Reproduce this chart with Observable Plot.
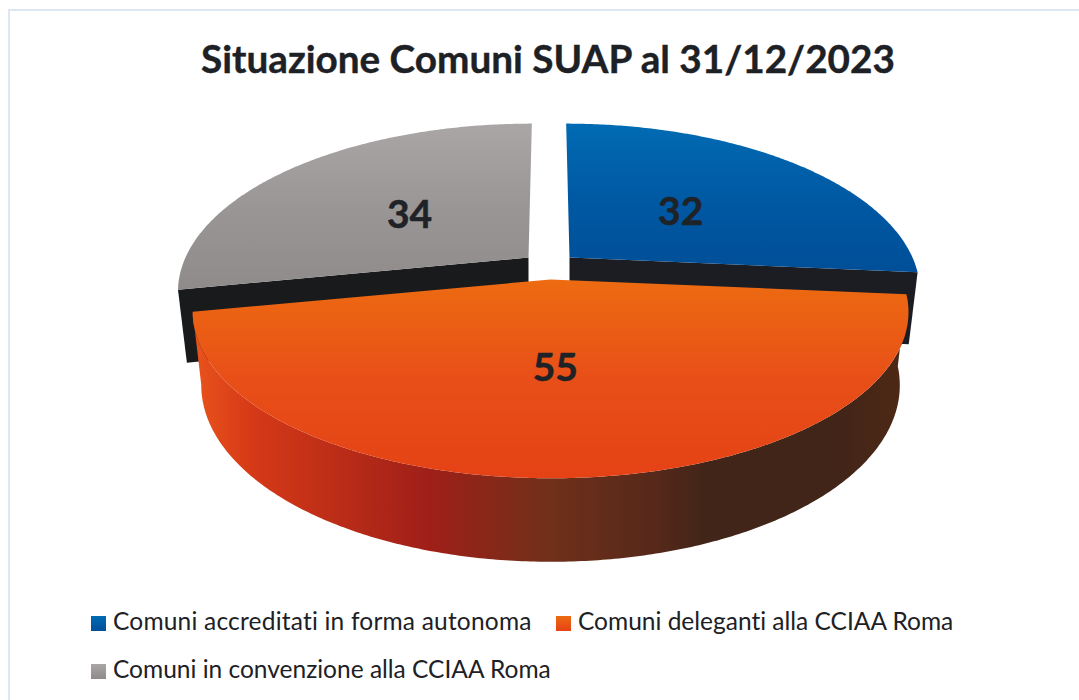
<!DOCTYPE html>
<html lang="it">
<head>
<meta charset="utf-8">
<script src="https://cdn.jsdelivr.net/npm/d3@7"></script>
<script src="https://cdn.jsdelivr.net/npm/@observablehq/plot@0.6"></script>
<style>
  html, body { margin: 0; padding: 0; background: #fff; }
  #page { position: relative; width: 1079px; height: 700px; overflow: hidden; font-family: Lato, "Noto Sans", sans-serif; color: #1d2125; font-variant-ligatures: none; }
  #frame { position: absolute; left: 8px; top: 9px; width: 1100px; height: 720px; border: 2px solid #dce7f1; box-sizing: border-box; }
  #title { position: absolute; left: 0; width: 1096px; top: 34px; text-align: center; font-size: 38.7px; font-weight: 700; line-height: 48px; -webkit-text-stroke: 0.4px #1d2125; }
  #chart { position: absolute; left: 0; top: 100px; }
  #legend { position: absolute; left: 91px; top: 597px; width: 900px; font-size: 24.5px; line-height: 48px; }
  .item { display: inline-block; white-space: nowrap; }
  .swatch { display: inline-block; width: 15px; height: 15px; margin-right: 7px; vertical-align: -1px; }
</style>
</head>
<body>
<div id="page">
  <div id="frame"></div>
  <div id="title"></div>
  <div id="chart"></div>
  <div id="legend"></div>
</div>
<script>
const titleText = "Situazione Comuni SUAP al 31/12/2023";
const categories = ["Comuni accreditati in forma autonoma", "Comuni deleganti alla CCIAA Roma", "Comuni in convenzione alla CCIAA Roma"];
const values = [32, 55, 34];

// colours: top, middle and bottom of each slice's gradient
const topColors = ["#006bb3", "#ed6b11", "#a9a6a5"];
const midColors = ["#0059a3", "#e84f18", "#9a9695"];
const bottomColors = ["#004e98", "#e54215", "#8f8b8a"];
const faceColors = ["#1b1d23", "#1b1d23", "#181a1c"];
const wallStops = [[0, "#e9541c"], [0.08, "#d63a17"], [0.33, "#9f1f18"], [0.5, "#70301a"], [0.65, "#55281a"], [0.72, "#402518"], [0.9, "#412518"], [1, "#4f2815"]];

// perspective disc: slice offsets (explosion) and radii in px
const centerX = 548.5, centerY = 257, radiusX = [343, 351, 343], radiusY = 160, perspective = 0.195;
const offsetX = [20.5, 1.5, -20.5], offsetY = [0, 22, 0];
const depth = 71, wallInset = 0.976;
const labelShiftX = [-2, -5, 0];

const slices = d3.pie().sort(null)(values);

function project(i, theta, r = 1) {
  const w = 1 + perspective * r * Math.cos(theta);
  return {
    x: centerX + (offsetX[i] + radiusX[i] * r * Math.sin(theta)) / w,
    y: centerY + offsetY[i] - radiusY * r * Math.cos(theta) / w
  };
}
function drop(p, theta) {
  return {
    x: centerX + (p.x - centerX) * wallInset,
    y: p.y + depth / (1 + 0.15 * Math.cos(theta))
  };
}
function arc(i, a0, a1) {
  const n = Math.ceil(Math.abs(a1 - a0) / 0.01);
  return d3.range(n + 1).map((k) => a0 + (a1 - a0) * k / n);
}
const apex = (i) => project(i, 0, 0);
const topPolygon = (s) => [apex(s.index), ...arc(s.index, s.startAngle, s.endAngle).map((t) => project(s.index, t))];
const wallPolygon = (s) => {
  const angles = arc(s.index, s.startAngle, s.endAngle);
  return [...angles.map((t) => project(s.index, t)), ...angles.slice().reverse().map((t) => drop(project(s.index, t), t))];
};
const facePolygon = (i, theta) => {
  const a = apex(i), b = project(i, theta);
  return [a, b, drop(b, theta), {x: a.x, y: a.y + depth}];
};
const poly = (points, fill) => Plot.line(points, {x: "x", y: "y", fill, stroke: "none", curve: "linear"});

const labelRows = slices.map((s) => {
  const p = project(s.index, (s.startAngle + s.endAngle) / 2, 0.48);
  return {x: p.x + labelShiftX[s.index], y: p.y, value: s.value};
});

const chart = Plot.plot({
  width: 1079, height: 490,
  marginTop: 0, marginRight: 0, marginBottom: 0, marginLeft: 0,
  x: {domain: [0, 1079], range: [0, 1079], axis: null},
  y: {domain: [100, 590], range: [0, 490], axis: null},
  style: {background: "transparent", overflow: "visible"},
  marks: [
    poly(facePolygon(0, slices[0].endAngle), faceColors[0]),
    poly(facePolygon(2, slices[2].startAngle), faceColors[2]),
    poly(topPolygon(slices[0]), "url(#slice0)"),
    poly(topPolygon(slices[2]), "url(#slice2)"),
    poly(wallPolygon(slices[1]), "url(#wall)"),
    poly(topPolygon(slices[1]), "url(#slice1)"),
    Plot.text(labelRows, {x: "x", y: "y", dy: 4, text: "value", fontSize: 39, fontWeight: 700, fill: "#1f2226", stroke: "#1f2226", strokeWidth: 0.5, fontFamily: "Lato, 'Noto Sans', sans-serif", lineAnchor: "middle"})
  ]
});

const defs = d3.select(chart).insert("defs", ":first-child");
topColors.forEach((c, i) => {
  const g = defs.append("linearGradient").attr("id", `slice${i}`).attr("x1", 0).attr("y1", 0).attr("x2", 0).attr("y2", 1);
  g.append("stop").attr("offset", 0).attr("stop-color", c);
  g.append("stop").attr("offset", 0.5).attr("stop-color", midColors[i]);
  g.append("stop").attr("offset", 1).attr("stop-color", bottomColors[i]);
});
const wall = defs.append("linearGradient").attr("id", "wall").attr("x1", 0).attr("y1", 0).attr("x2", 1).attr("y2", 0);
wallStops.forEach(([o, c]) => wall.append("stop").attr("offset", o).attr("stop-color", c));

document.getElementById("chart").append(chart);
document.getElementById("title").textContent = titleText;

const legend = d3.select("#legend");
categories.forEach((name, i) => {
  const item = legend.append("span").attr("class", "item").style("width", i === 0 ? "465px" : null);
  item.append("span").attr("class", "swatch").style("background", `linear-gradient(${topColors[i]}, ${bottomColors[i]})`);
  item.append("span").style("letter-spacing", i === 0 ? "0.2px" : null).text(name);
  if (i === 1) legend.append("br");
});
</script>
</body>
</html>
